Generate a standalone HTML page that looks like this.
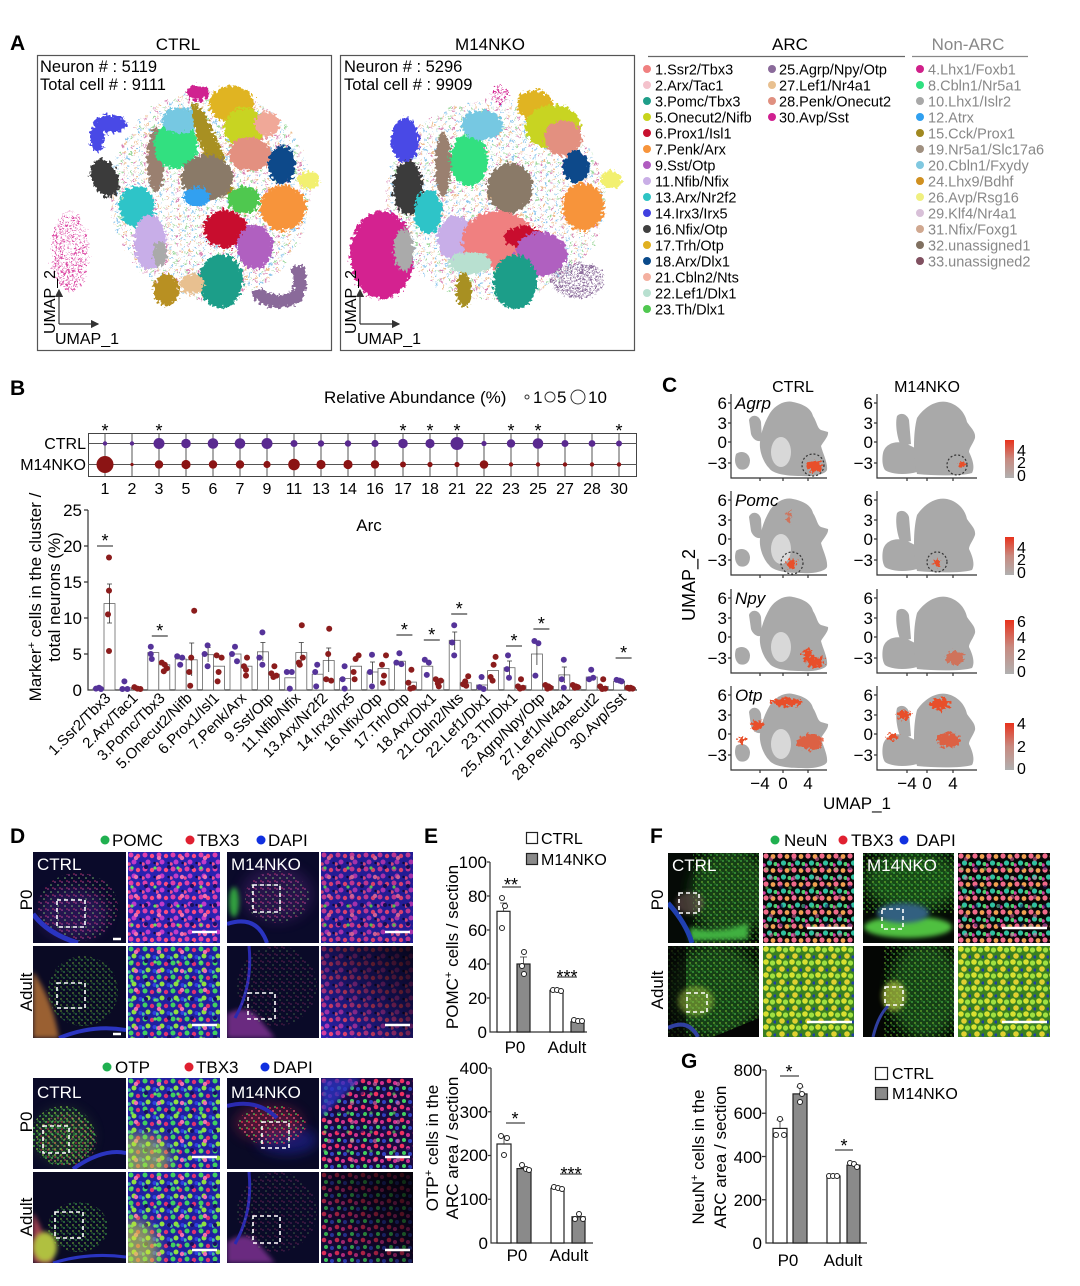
<!DOCTYPE html>
<html><head><meta charset="utf-8">
<style>
html,body{margin:0;padding:0;background:#fff}
svg{display:block;font-family:"Liberation Sans",Arial,sans-serif}
.b{fill:#fff;stroke:#666;stroke-width:.8}
.dc{fill:#553399}
.dk{fill:#8b1c1c}
.ax{stroke:#333;stroke-width:1.2;fill:none}
.ln{stroke:#555;stroke-width:1;fill:none}
.sg{stroke:#444;stroke-width:1.2}
.eb{stroke:#333;stroke-width:.8;fill:none}
.ds{fill:none;stroke:#fff;stroke-width:1.6;stroke-dasharray:4 3}
.sb{stroke:#fff;stroke-width:2.5}
.wt{fill:#fff;font-size:17px}
.bw{fill:#fff;stroke:#222;stroke-width:1.2}
.bg{fill:#8a8a8a;stroke:#222;stroke-width:1.2}
.oc{fill:#fff;stroke:#222;stroke-width:1}
.gr{fill:#a9a9a9}
</style></head>
<body>
<svg width="1080" height="1286" viewBox="0 0 1080 1286" xmlns="http://www.w3.org/2000/svg">
<defs>
<filter id="rough" x="-20%" y="-20%" width="140%" height="140%">
<feTurbulence type="fractalNoise" baseFrequency="0.32" numOctaves="2" seed="4" result="n"/>
<feDisplacementMap in="SourceGraphic" in2="n" scale="10" xChannelSelector="R" yChannelSelector="G"/>
</filter>
<filter id="bl" x="-50%" y="-50%" width="200%" height="200%"><feGaussianBlur stdDeviation="6"/></filter>
<filter id="bl2" x="-50%" y="-50%" width="200%" height="200%"><feGaussianBlur stdDeviation="2.5"/></filter>
<marker id="ar" markerWidth="7" markerHeight="7" refX="6" refY="3.5" orient="auto"><path d="M0,0 L7,3.5 L0,7 z" fill="#333"/></marker>
<pattern id="sp" width="11" height="9" patternUnits="userSpaceOnUse">
<circle cx="2" cy="2" r="1.2" fill="#c03080"/><circle cx="7" cy="5" r="1.2" fill="#40a0e0"/><circle cx="4" cy="8" r="1.1" fill="#e09040"/><circle cx="10" cy="1" r="1.1" fill="#60c060"/></pattern>
<pattern id="spm" width="6" height="6" patternUnits="userSpaceOnUse"><circle cx="1.5" cy="1.5" r="1.4" fill="#d42090"/><circle cx="4.5" cy="4.5" r="1" fill="#d42090"/></pattern>
<pattern id="spu" width="5" height="5" patternUnits="userSpaceOnUse"><circle cx="1.5" cy="1.5" r="1.4" fill="#8a6a9a"/><circle cx="4" cy="4" r="1" fill="#8a6a9a"/></pattern>
<linearGradient id="cbar" x1="0" y1="0" x2="0" y2="1"><stop offset="0" stop-color="#e8321c"/><stop offset=".5" stop-color="#c88a80"/><stop offset="1" stop-color="#b0b0b0"/></linearGradient>
<pattern id="pm" width="14" height="14" patternUnits="userSpaceOnUse"><rect width="14" height="14" fill="#2a22b0"/>
<circle cx="3" cy="3" r="2.5" fill="#e040a8"/><circle cx="10" cy="4" r="2.2" fill="#ff4a80"/><circle cx="6" cy="10" r="2.5" fill="#c23ac8"/><circle cx="12.5" cy="11" r="1.2" fill="#120a40"/><circle cx="1" cy="12" r="1.8" fill="#f05090"/></pattern>
<pattern id="pm2" width="23" height="19" patternUnits="userSpaceOnUse"><circle cx="8" cy="6" r="2.2" fill="#f070b0"/><circle cx="18" cy="15" r="2" fill="#1a1060"/><circle cx="4" cy="16" r="1.6" fill="#60e060"/></pattern>
<pattern id="pg" width="14" height="14" patternUnits="userSpaceOnUse"><rect width="14" height="14" fill="#2020a0"/>
<circle cx="3" cy="3" r="2.5" fill="#40d060"/><circle cx="10" cy="4" r="2.2" fill="#e03070"/><circle cx="6" cy="10" r="2.5" fill="#90e040"/><circle cx="12.5" cy="11" r="2" fill="#3040e0"/><circle cx="1" cy="12" r="1.8" fill="#40c0a0"/></pattern>
<pattern id="pr" width="13" height="13" patternUnits="userSpaceOnUse"><rect width="13" height="13" fill="#1a0a40"/>
<circle cx="3" cy="3" r="2.3" fill="#f03060"/><circle cx="9" cy="5" r="2" fill="#d03090"/><circle cx="5" cy="10" r="2" fill="#40d060"/><circle cx="11" cy="11" r="2" fill="#3040c0"/></pattern>
<pattern id="pf" width="14" height="14" patternUnits="userSpaceOnUse"><rect width="14" height="14" fill="#080808"/>
<circle cx="3" cy="3" r="2.6" fill="#f06a8a"/><circle cx="10" cy="3.5" r="2.4" fill="#f0a050"/><circle cx="6.5" cy="10" r="2.6" fill="#30c0a0"/><circle cx="12.5" cy="11" r="2" fill="#50d070"/><circle cx="1" cy="12" r="1.8" fill="#d040a0"/></pattern>
<pattern id="py" width="13" height="13" patternUnits="userSpaceOnUse"><rect width="13" height="13" fill="#3a8020"/>
<circle cx="3" cy="3" r="2.8" fill="#d8e030"/><circle cx="9.5" cy="4" r="2.6" fill="#a0e040"/><circle cx="6" cy="10" r="2.8" fill="#e0d030"/><circle cx="12" cy="11" r="1.6" fill="#2040a0"/></pattern>
<pattern id="spkP" width="7" height="7" patternUnits="userSpaceOnUse"><circle cx="1" cy="2" r=".8" fill="#ff60c0"/><circle cx="4" cy="5" r=".8" fill="#a0ff80"/><circle cx="6" cy="1" r=".8" fill="#ff4080"/></pattern>
<pattern id="spkG" width="6" height="6" patternUnits="userSpaceOnUse"><circle cx="1" cy="2" r=".9" fill="#60ff60"/><circle cx="4" cy="5" r=".9" fill="#a0ff40"/><circle cx="5" cy="1" r=".7" fill="#40c040"/></pattern>
<pattern id="spkR" width="7" height="7" patternUnits="userSpaceOnUse"><circle cx="1" cy="2" r=".9" fill="#ff3050"/><circle cx="4" cy="5" r=".9" fill="#ff6080"/><circle cx="6" cy="1" r=".8" fill="#60ff60"/></pattern>
<linearGradient id="darkTR" x1="0" y1="1" x2="1" y2="0"><stop offset="0" stop-color="#000" stop-opacity="0"/><stop offset=".6" stop-color="#000" stop-opacity=".6"/><stop offset="1" stop-color="#000" stop-opacity=".85"/></linearGradient>
<g id="cblob">
<path class="gr" d="M39,-65 C45,-74 55,-78 62,-76 C72,-74 80,-70 82,-62 C86,-56 86,-50 90,-48 L97,-46 C98,-42 92,-36 90,-32 C92,-24 97,-15 96,-8 C94,-3 80,-1 70,-2 C55,-2 42,-4 38,-10 C32,-16 28,-28 29,-36 C30,-45 33,-55 39,-65 Z"/>
<path class="gr" d="M18,-58 C20,-64 28,-64 30,-56 L31,-38 C28,-35 22,-38 20,-44 Z"/>
<path class="gr" d="M5,-24 C10,-28 18,-26 19,-18 C19,-10 14,-7 8,-9 C4,-12 3,-18 5,-24 Z"/>
<ellipse cx="50" cy="-26" rx="10" ry="15" fill="#fff" opacity=".55"/>
</g>
<g id="kblob">
<path class="gr" d="M6,-25 C8,-35 20,-38 30,-34 L38,-30 L40,-6 C30,-3 15,-3 8,-8 C5,-12 5,-20 6,-25 Z"/>
<path class="gr" d="M20,-62 C24,-66 30,-64 32,-58 L34,-34 L24,-32 C20,-40 18,-54 20,-62 Z"/>
<path class="gr" d="M40,-60 C48,-72 60,-78 70,-76 C80,-74 88,-66 90,-56 C94,-50 99,-46 98,-40 C96,-34 92,-30 92,-26 C96,-18 98,-10 95,-5 C85,-2 60,-2 40,-4 C36,-20 36,-45 40,-60 Z"/>
</g>
<g id="cax"><path class="ax" d="M0,-84 V0 H96"/><path class="ax" d="M-3,-75H0M-3,-55H0M-3,-36H0M-3,-15H0M29,0v3M52,0v3M77,0v3"/>
<g font-size="17" text-anchor="end"><text x="-4" y="-69">6</text><text x="-4" y="-49">3</text><text x="-4" y="-30">0</text><text x="-4" y="-9">−3</text></g></g>
<g id="kax"><path class="ax" d="M0,-84 V0 H100"/><path class="ax" d="M-3,-75H0M-3,-55H0M-3,-36H0M-3,-15H0M30,0v3M50,0v3M76,0v3"/>
<g font-size="17" text-anchor="end"><text x="-4" y="-69">6</text><text x="-4" y="-49">3</text><text x="-4" y="-30">0</text><text x="-4" y="-9">−3</text></g></g>
</defs>

<!-- ================= PANEL A ================= -->
<text x="10" y="50" font-size="21" font-weight="bold">A</text>
<text x="178" y="50" text-anchor="middle" font-size="17">CTRL</text>
<text x="490" y="50" text-anchor="middle" font-size="17">M14NKO</text>
<rect x="37.5" y="55.5" width="294" height="295" fill="none" stroke="#555" stroke-width="1.2"/>
<rect x="340.5" y="55.5" width="294" height="295" fill="none" stroke="#555" stroke-width="1.2"/>
<text x="40" y="72" font-size="16.5">Neuron # : 5119</text>
<text x="40" y="90" font-size="16.5">Total cell # : 9111</text>
<text x="344" y="72" font-size="16.5">Neuron # : 5296</text>
<text x="344" y="90" font-size="16.5">Total cell # : 9909</text>

<g filter="url(#rough)">
<ellipse cx="210" cy="195" rx="100" ry="105" fill="url(#sp)" opacity=".6"/>
<ellipse cx="70" cy="252" rx="19" ry="40" fill="url(#spm)" opacity=".8"/>
<ellipse cx="110" cy="124" rx="17" ry="9" fill="#4a4ae6"/>
<ellipse cx="97" cy="138" rx="7" ry="14" fill="#4a4ae6"/>
<ellipse cx="105" cy="178" rx="13" ry="20" fill="#3a3a3a" transform="rotate(-25 105 178)"/>
<ellipse cx="137" cy="207" rx="18" ry="21" fill="#2ec4c8"/>
<ellipse cx="150" cy="242" rx="16" ry="27" fill="#c8aee8"/>
<ellipse cx="160" cy="254" rx="7" ry="13" fill="#aaa"/>
<ellipse cx="156" cy="160" rx="9" ry="32" fill="#9a8070"/>
<ellipse cx="176" cy="145" rx="22" ry="24" fill="#30e080"/>
<ellipse cx="180" cy="120" rx="18" ry="13" fill="#76c8e2"/>
<ellipse cx="212" cy="150" rx="9" ry="50" fill="#a89020" transform="rotate(-22 212 150)"/>
<ellipse cx="232" cy="104" rx="23" ry="18" fill="#e0b420"/>
<ellipse cx="245" cy="128" rx="21" ry="20" fill="#c8d420"/>
<ellipse cx="198" cy="93" rx="11" ry="8" fill="#d02090"/>
<ellipse cx="250" cy="154" rx="22" ry="17" fill="#e39080"/>
<ellipse cx="267" cy="124" rx="13" ry="12" fill="#f0a898"/>
<ellipse cx="282" cy="165" rx="14" ry="19" fill="#0a4a8a"/>
<ellipse cx="207" cy="178" rx="26" ry="23" fill="#8a7a68"/>
<ellipse cx="197" cy="197" rx="13" ry="10" fill="#30a0f0"/>
<ellipse cx="244" cy="200" rx="16" ry="14" fill="#50c850"/>
<ellipse cx="309" cy="180" rx="11" ry="9" fill="#f2f070"/>
<ellipse cx="283" cy="208" rx="23" ry="23" fill="#f7943b"/>
<ellipse cx="225" cy="229" rx="22" ry="19" fill="#c8102e"/>
<ellipse cx="255" cy="247" rx="18" ry="22" fill="#b060c0"/>
<ellipse cx="221" cy="281" rx="22" ry="27" fill="#1f9e89"/>
<path d="M297,266 C303,285 301,299 285,301 C272,303 261,299 256,290" stroke="#8a6a9a" stroke-width="13" fill="none"/>
<ellipse cx="166" cy="290" rx="13" ry="16" fill="#b89020"/>
<ellipse cx="192" cy="284" rx="12" ry="10" fill="#e8c090"/>
</g>
<g filter="url(#rough)">
<ellipse cx="495" cy="200" rx="110" ry="100" fill="url(#sp)" opacity=".6"/>
<ellipse cx="382" cy="255" rx="32" ry="44" fill="#d42090"/>
<ellipse cx="404" cy="250" rx="10" ry="21" fill="#aaa"/>
<ellipse cx="405" cy="140" rx="14" ry="22" fill="#4a4ae6"/>
<ellipse cx="408" cy="188" rx="15" ry="27" fill="#3a3a3a"/>
<ellipse cx="428" cy="212" rx="14" ry="22" fill="#2ec4c8"/>
<ellipse cx="455" cy="238" rx="18" ry="22" fill="#c8aee8"/>
<ellipse cx="443" cy="165" rx="8" ry="32" fill="#9a8070"/>
<ellipse cx="469" cy="160" rx="19" ry="26" fill="#30e080"/>
<ellipse cx="482" cy="125" rx="21" ry="15" fill="#76c8e2"/>
<ellipse cx="535" cy="105" rx="18" ry="15" fill="#e0b420"/>
<ellipse cx="553" cy="127" rx="28" ry="22" fill="#c8d420"/>
<ellipse cx="563" cy="138" rx="19" ry="18" fill="#e39080"/>
<ellipse cx="576" cy="167" rx="13" ry="16" fill="#0a4a8a"/>
<ellipse cx="611" cy="180" rx="11" ry="9" fill="#f2f070"/>
<ellipse cx="583" cy="207" rx="21" ry="24" fill="#f7943b"/>
<ellipse cx="510" cy="188" rx="23" ry="25" fill="#8a7a68"/>
<ellipse cx="498" cy="240" rx="36" ry="29" fill="#f08080"/>
<ellipse cx="524" cy="237" rx="20" ry="11" fill="#c8102e"/>
<ellipse cx="470" cy="263" rx="22" ry="11" fill="#b8e0d0"/>
<ellipse cx="541" cy="254" rx="26" ry="22" fill="#b060c0"/>
<ellipse cx="515" cy="282" rx="22" ry="27" fill="#1f9e89"/>
<ellipse cx="578" cy="280" rx="27" ry="18" fill="url(#spu)"/>
<ellipse cx="464" cy="290" rx="8" ry="17" fill="#a89020"/>
<ellipse cx="500" cy="95" rx="9" ry="9" fill="url(#spm)"/>
</g>
<path d="M59,324 V290" stroke="#333" stroke-width="1.2" marker-end="url(#ar)"/>
<path d="M59,324 H98" stroke="#333" stroke-width="1.2" marker-end="url(#ar)"/>
<text transform="translate(55,302) rotate(-90)" text-anchor="middle" font-size="16">UMAP_2</text>
<text x="55" y="344" font-size="16">UMAP_1</text>
<path d="M360,324 V290" stroke="#333" stroke-width="1.2" marker-end="url(#ar)"/>
<path d="M360,324 H399" stroke="#333" stroke-width="1.2" marker-end="url(#ar)"/>
<text transform="translate(356,302) rotate(-90)" text-anchor="middle" font-size="16">UMAP_2</text>
<text x="357" y="344" font-size="16">UMAP_1</text>

<text x="790" y="50" text-anchor="middle" font-size="17">ARC</text>
<path d="M648,56.5H905" stroke="#666" stroke-width="1.2"/>
<text x="968" y="50" text-anchor="middle" font-size="17" fill="#888">Non-ARC</text>
<path d="M912,56.5H1028" stroke="#888" stroke-width="1.2"/>
<g font-size="14.5">
<circle cx="647" cy="69" r="4" fill="#f08080"/><text x="655" y="74.5">1.Ssr2/Tbx3</text>
<circle cx="647" cy="85" r="4" fill="#f4c2cc"/><text x="655" y="90.5">2.Arx/Tac1</text>
<circle cx="647" cy="101" r="4" fill="#1f9e89"/><text x="655" y="106.5">3.Pomc/Tbx3</text>
<circle cx="647" cy="117" r="4" fill="#c8d41c"/><text x="655" y="122.5">5.Onecut2/Nifb</text>
<circle cx="647" cy="133" r="4" fill="#c8102e"/><text x="655" y="138.5">6.Prox1/Isl1</text>
<circle cx="647" cy="149" r="4" fill="#f7943b"/><text x="655" y="154.5">7.Penk/Arx</text>
<circle cx="647" cy="165" r="4" fill="#b05cc0"/><text x="655" y="170.5">9.Sst/Otp</text>
<circle cx="647" cy="181" r="4" fill="#c9aee6"/><text x="655" y="186.5">11.Nfib/Nfix</text>
<circle cx="647" cy="197" r="4" fill="#2ec4c4"/><text x="655" y="202.5">13.Arx/Nr2f2</text>
<circle cx="647" cy="213" r="4" fill="#4040e0"/><text x="655" y="218.5">14.Irx3/Irx5</text>
<circle cx="647" cy="229" r="4" fill="#404040"/><text x="655" y="234.5">16.Nfix/Otp</text>
<circle cx="647" cy="245" r="4" fill="#e0b020"/><text x="655" y="250.5">17.Trh/Otp</text>
<circle cx="647" cy="261" r="4" fill="#0a4a8a"/><text x="655" y="266.5">18.Arx/Dlx1</text>
<circle cx="647" cy="277" r="4" fill="#f4b0a0"/><text x="655" y="282.5">21.Cbln2/Nts</text>
<circle cx="647" cy="293" r="4" fill="#b8e0d0"/><text x="655" y="298.5">22.Lef1/Dlx1</text>
<circle cx="647" cy="309" r="4" fill="#50c850"/><text x="655" y="314.5">23.Th/Dlx1</text>
<circle cx="772" cy="69" r="4" fill="#8a6a9a"/><text x="779" y="74.5">25.Agrp/Npy/Otp</text>
<circle cx="772" cy="85" r="4" fill="#e8c090"/><text x="779" y="90.5">27.Lef1/Nr4a1</text>
<circle cx="772" cy="101" r="4" fill="#e09080"/><text x="779" y="106.5">28.Penk/Onecut2</text>
<circle cx="772" cy="117" r="4" fill="#d02090"/><text x="779" y="122.5">30.Avp/Sst</text>
<g fill="#888">
<circle cx="920" cy="69" r="4" fill="#d0208a"/><text x="928" y="74.5">4.Lhx1/Foxb1</text>
<circle cx="920" cy="85" r="4" fill="#30e080"/><text x="928" y="90.5">8.Cbln1/Nr5a1</text>
<circle cx="920" cy="101" r="4" fill="#a8a8a8"/><text x="928" y="106.5">10.Lhx1/Islr2</text>
<circle cx="920" cy="117" r="4" fill="#30a0f0"/><text x="928" y="122.5">12.Atrx</text>
<circle cx="920" cy="133" r="4" fill="#a08820"/><text x="928" y="138.5">15.Cck/Prox1</text>
<circle cx="920" cy="149" r="4" fill="#a09080"/><text x="928" y="154.5">19.Nr5a1/Slc17a6</text>
<circle cx="920" cy="165" r="4" fill="#80c8e0"/><text x="928" y="170.5">20.Cbln1/Fxydy</text>
<circle cx="920" cy="181" r="4" fill="#d09020"/><text x="928" y="186.5">24.Lhx9/Bdhf</text>
<circle cx="920" cy="197" r="4" fill="#f0f080"/><text x="928" y="202.5">26.Avp/Rsg16</text>
<circle cx="920" cy="213" r="4" fill="#d8c0d8"/><text x="928" y="218.5">29.Klf4/Nr4a1</text>
<circle cx="920" cy="229" r="4" fill="#d0a890"/><text x="928" y="234.5">31.Nfix/Foxg1</text>
<circle cx="920" cy="245" r="4" fill="#807060"/><text x="928" y="250.5">32.unassigned1</text>
<circle cx="920" cy="261" r="4" fill="#805060"/><text x="928" y="266.5">33.unassigned2</text>
</g></g>

<!-- ================= PANEL B ================= -->
<text x="10" y="395" font-size="21" font-weight="bold">B</text>
<text x="324" y="403" font-size="17">Relative Abundance (%)</text>
<circle cx="527" cy="397" r="2" fill="none" stroke="#333"/>
<text x="533" y="403" font-size="17">1</text>
<circle cx="550" cy="397" r="5" fill="none" stroke="#333"/>
<text x="557" y="403" font-size="17">5</text>
<circle cx="578" cy="397" r="7" fill="none" stroke="#333"/>
<text x="588" y="403" font-size="17">10</text>

<rect x="88.5" y="433.5" width="548" height="43" fill="none" stroke="#444" stroke-width="1"/>
<path class="ln" d="M88,443.5H637M88,464.5H637"/>
<path class="ln" d="M105,434V476M132,434V476M159,434V476M186,434V476M213,434V476M240,434V476M267,434V476M294,434V476M321,434V476M348,434V476M375,434V476M403,434V476M430,434V476M457,434V476M484,434V476M511,434V476M538,434V476M565,434V476M592,434V476M619,434V476"/>
<text x="86" y="449" text-anchor="end" font-size="16">CTRL</text>
<text x="86" y="470" text-anchor="end" font-size="16">M14NKO</text>
<g fill="#5a2a90">
<circle cx="105" cy="443.5" r="2.2"/><circle cx="132" cy="443.5" r="2.2"/><circle cx="159" cy="443.5" r="5.5"/><circle cx="186" cy="443.5" r="4.8"/><circle cx="213" cy="443.5" r="5.3"/><circle cx="240" cy="443.5" r="5.3"/><circle cx="267" cy="443.5" r="5.5"/><circle cx="294" cy="443.5" r="3.5"/><circle cx="321" cy="443.5" r="3.2"/><circle cx="348" cy="443.5" r="3.2"/><circle cx="375" cy="443.5" r="3.6"/><circle cx="403" cy="443.5" r="4.8"/><circle cx="430" cy="443.5" r="4.6"/><circle cx="457" cy="443.5" r="6.5"/><circle cx="484" cy="443.5" r="2.6"/><circle cx="511" cy="443.5" r="4.2"/><circle cx="538" cy="443.5" r="5.3"/><circle cx="565" cy="443.5" r="3.5"/><circle cx="592" cy="443.5" r="3.4"/><circle cx="619" cy="443.5" r="3"/>
</g>
<g fill="#8b1414">
<circle cx="105" cy="464.5" r="8.5"/><circle cx="132" cy="464.5" r="1.6"/><circle cx="159" cy="464.5" r="4.2"/><circle cx="186" cy="464.5" r="4.6"/><circle cx="213" cy="464.5" r="4.2"/><circle cx="240" cy="464.5" r="4.2"/><circle cx="267" cy="464.5" r="3.6"/><circle cx="294" cy="464.5" r="5.8"/><circle cx="321" cy="464.5" r="4.6"/><circle cx="348" cy="464.5" r="4.6"/><circle cx="375" cy="464.5" r="4.2"/><circle cx="403" cy="464.5" r="3"/><circle cx="430" cy="464.5" r="2.6"/><circle cx="457" cy="464.5" r="2.6"/><circle cx="484" cy="464.5" r="4.3"/><circle cx="511" cy="464.5" r="2.2"/><circle cx="538" cy="464.5" r="2.2"/><circle cx="565" cy="464.5" r="2.2"/><circle cx="592" cy="464.5" r="2.2"/><circle cx="619" cy="464.5" r="2.2"/>
</g>
<g font-size="18" text-anchor="middle">
<text x="105" y="437">*</text><text x="159" y="437">*</text><text x="403" y="437">*</text><text x="430" y="437">*</text><text x="457" y="437">*</text><text x="511" y="437">*</text><text x="538" y="437">*</text><text x="619" y="437">*</text>
</g>
<g font-size="16" text-anchor="middle">
<text x="105" y="494">1</text><text x="132" y="494">2</text><text x="159" y="494">3</text><text x="186" y="494">5</text><text x="213" y="494">6</text><text x="240" y="494">7</text><text x="267" y="494">9</text><text x="294" y="494">11</text><text x="321" y="494">13</text><text x="348" y="494">14</text><text x="375" y="494">16</text><text x="403" y="494">17</text><text x="430" y="494">18</text><text x="457" y="494">21</text><text x="484" y="494">22</text><text x="511" y="494">23</text><text x="538" y="494">25</text><text x="565" y="494">27</text><text x="592" y="494">28</text><text x="619" y="494">30</text>
</g>

<path class="ax" d="M88,510V690H637"/>
<path class="ax" d="M84,510H88M84,546H88M84,582H88M84,618H88M84,654H88"/>
<g font-size="17" text-anchor="end">
<text x="82" y="516">25</text><text x="82" y="552">20</text><text x="82" y="588">15</text><text x="82" y="624">10</text><text x="82" y="660">5</text><text x="82" y="696">0</text>
</g>
<text transform="translate(41,597) rotate(-90)" text-anchor="middle" font-size="17">Marker<tspan font-size="11" dy="-6">+</tspan><tspan dy="6"> cells in the cluster /</tspan></text>
<text transform="translate(60,597) rotate(-90)" text-anchor="middle" font-size="17">total neurons (%)</text>
<text x="369" y="531" text-anchor="middle" font-size="17">Arc</text>

<g transform="translate(104,0)"><rect class="b" x="-11" y="688.6" width="11" height="1.4"/><rect class="b" x="0" y="603.6" width="11" height="86.4"/><path class="eb" d="M5.5,584V623M3,584h5M3,623h5"/>
<circle class="dc" cx="-8" cy="688.6" r="3"/><circle class="dc" cx="-5" cy="687.8" r="3"/><circle class="dc" cx="-3" cy="689" r="3"/>
<circle class="dk" cx="5" cy="557.5" r="3"/><circle class="dk" cx="5" cy="590.6" r="3"/><circle class="dk" cx="4" cy="614.4" r="3"/><circle class="dk" cx="5" cy="651" r="3"/>
<path class="sg" d="M-7,546H9"/><text x="1" y="547" font-size="18" text-anchor="middle">*</text></g>

<g transform="translate(131.4,0)"><rect class="b" x="-11" y="687.8" width="11" height="2.2"/><rect class="b" x="0" y="688.6" width="11" height="1.4"/>
<circle class="dc" cx="-7" cy="681.4" r="3"/><circle class="dc" cx="-9" cy="689" r="3"/><circle class="dc" cx="-4" cy="689" r="3"/>
<circle class="dk" cx="3" cy="687.1" r="3"/><circle class="dk" cx="6" cy="688.6" r="3"/><circle class="dk" cx="9" cy="689" r="3"/></g>

<g transform="translate(158.8,0)"><rect class="b" x="-11" y="652.6" width="11" height="37.4"/><rect class="b" x="0" y="664.8" width="11" height="25.2"/>
<circle class="dc" cx="-8" cy="646.8" r="3"/><circle class="dc" cx="-8" cy="654" r="3"/><circle class="dc" cx="-7" cy="659" r="3"/>
<circle class="dk" cx="3" cy="662.6" r="3"/><circle class="dk" cx="6" cy="664.8" r="3"/><circle class="dk" cx="8" cy="668.4" r="3"/><circle class="dk" cx="5" cy="671.3" r="3"/>
<path class="sg" d="M-7,636H9"/><text x="1" y="637" font-size="18" text-anchor="middle">*</text></g>

<g transform="translate(186.2,0)"><rect class="b" x="-11" y="659" width="11" height="31"/><rect class="b" x="0" y="659.8" width="11" height="30.2"/><path class="eb" d="M5.5,643V676M3,643h5"/>
<circle class="dc" cx="-9" cy="656.2" r="3"/><circle class="dc" cx="-4" cy="657.6" r="3"/><circle class="dc" cx="-6" cy="664.8" r="3"/>
<circle class="dk" cx="8" cy="610.8" r="3"/><circle class="dk" cx="5" cy="657.6" r="3"/><circle class="dk" cx="3" cy="672" r="3"/><circle class="dk" cx="4" cy="685.7" r="3"/></g>

<g transform="translate(213.6,0)"><rect class="b" x="-11" y="654.7" width="11" height="35.3"/><rect class="b" x="0" y="666.2" width="11" height="23.8"/><path class="eb" d="M-5.5,647.5V662M-8,647.5h5"/>
<circle class="dc" cx="-6" cy="645.4" r="3"/><circle class="dc" cx="-9" cy="654" r="3"/><circle class="dc" cx="-6" cy="666.2" r="3"/>
<circle class="dk" cx="3" cy="655.4" r="3"/><circle class="dk" cx="8" cy="657.6" r="3"/><circle class="dk" cx="5" cy="672" r="3"/><circle class="dk" cx="4" cy="681.4" r="3"/></g>

<g transform="translate(241,0)"><rect class="b" x="-11" y="654" width="11" height="36"/><rect class="b" x="0" y="666.2" width="11" height="23.8"/>
<circle class="dc" cx="-6" cy="646.8" r="3"/><circle class="dc" cx="-9" cy="654" r="3"/><circle class="dc" cx="-4" cy="661.2" r="3"/>
<circle class="dk" cx="6" cy="657.6" r="3"/><circle class="dk" cx="3" cy="666.2" r="3"/><circle class="dk" cx="5" cy="669.8" r="3"/><circle class="dk" cx="5" cy="675.6" r="3"/></g>

<g transform="translate(268.4,0)"><rect class="b" x="-11" y="651.8" width="11" height="38.2"/><rect class="b" x="0" y="674.2" width="11" height="15.8"/><path class="eb" d="M-5.5,642.5V661M-8,642.5h5"/>
<circle class="dc" cx="-6" cy="632.4" r="3"/><circle class="dc" cx="-9" cy="657.6" r="3"/><circle class="dc" cx="-6" cy="664.8" r="3"/>
<circle class="dk" cx="6" cy="666.2" r="3"/><circle class="dk" cx="3" cy="673.4" r="3"/><circle class="dk" cx="8" cy="675.6" r="3"/><circle class="dk" cx="5" cy="677" r="3"/></g>

<g transform="translate(295.8,0)"><rect class="b" x="-11" y="677.8" width="11" height="12.2"/><rect class="b" x="0" y="652.6" width="11" height="37.4"/><path class="eb" d="M5.5,642.5V662M3,642.5h5"/>
<circle class="dc" cx="-9" cy="672" r="3"/><circle class="dc" cx="-4" cy="672" r="3"/><circle class="dc" cx="-6" cy="688.6" r="3"/>
<circle class="dk" cx="6" cy="625.2" r="3"/><circle class="dk" cx="7" cy="657.6" r="3"/><circle class="dk" cx="3" cy="662.6" r="3"/><circle class="dk" cx="4" cy="664.8" r="3"/></g>

<g transform="translate(323.2,0)"><rect class="b" x="-11" y="674.2" width="11" height="15.8"/><rect class="b" x="0" y="660.5" width="11" height="29.5"/><path class="eb" d="M5.5,648V672M3,648h5"/>
<circle class="dc" cx="-6" cy="664.8" r="3"/><circle class="dc" cx="-8" cy="672" r="3"/><circle class="dc" cx="-7" cy="686.4" r="3"/>
<circle class="dk" cx="6" cy="628.8" r="3"/><circle class="dk" cx="5" cy="654" r="3"/><circle class="dk" cx="3" cy="679.2" r="3"/><circle class="dk" cx="8" cy="680.6" r="3"/></g>

<g transform="translate(350.6,0)"><rect class="b" x="-11" y="678.5" width="11" height="11.5"/><rect class="b" x="0" y="666.2" width="11" height="23.8"/>
<circle class="dc" cx="-6" cy="666.2" r="3"/><circle class="dc" cx="-8" cy="679.2" r="3"/><circle class="dc" cx="-6" cy="688.6" r="3"/>
<circle class="dk" cx="8" cy="655.4" r="3"/><circle class="dk" cx="5" cy="659" r="3"/><circle class="dk" cx="3" cy="672" r="3"/><circle class="dk" cx="4" cy="679.2" r="3"/></g>

<g transform="translate(378,0)"><rect class="b" x="-11" y="672" width="11" height="18"/><rect class="b" x="0" y="668.4" width="11" height="21.6"/><path class="eb" d="M-5.5,662V683M-8,662h5"/>
<circle class="dc" cx="-6" cy="654.7" r="3"/><circle class="dc" cx="-8" cy="672" r="3"/><circle class="dc" cx="-6" cy="686.4" r="3"/>
<circle class="dk" cx="8" cy="655.4" r="3"/><circle class="dk" cx="4" cy="664.8" r="3"/><circle class="dk" cx="6" cy="675.6" r="3"/><circle class="dk" cx="5" cy="682.8" r="3"/></g>

<g transform="translate(405.4,0)"><rect class="b" x="-11" y="661.2" width="11" height="28.8"/><rect class="b" x="0" y="682.1" width="11" height="7.9"/>
<circle class="dc" cx="-6" cy="653.3" r="3"/><circle class="dc" cx="-9" cy="662.6" r="3"/><circle class="dc" cx="-4" cy="664.1" r="3"/>
<circle class="dk" cx="6" cy="669.8" r="3"/><circle class="dk" cx="3" cy="682.8" r="3"/><circle class="dk" cx="8" cy="687.8" r="3"/><circle class="dk" cx="5" cy="688.6" r="3"/>
<path class="sg" d="M-9,635H7"/><text x="-1" y="636" font-size="18" text-anchor="middle">*</text></g>

<g transform="translate(432.8,0)"><rect class="b" x="-11" y="666.2" width="11" height="23.8"/><rect class="b" x="0" y="679.9" width="11" height="10.1"/>
<circle class="dc" cx="-8" cy="659.8" r="3"/><circle class="dc" cx="-4" cy="662.6" r="3"/><circle class="dc" cx="-6" cy="674.9" r="3"/>
<circle class="dk" cx="3" cy="679.2" r="3"/><circle class="dk" cx="8" cy="680.6" r="3"/><circle class="dk" cx="5" cy="683.5" r="3"/><circle class="dk" cx="6" cy="686.4" r="3"/>
<path class="sg" d="M-9,640H7"/><text x="-1" y="641" font-size="18" text-anchor="middle">*</text></g>

<g transform="translate(460.2,0)"><rect class="b" x="-11" y="640.3" width="11" height="49.7"/><rect class="b" x="0" y="682.8" width="11" height="7.2"/><path class="eb" d="M-5.5,632V650M-8,632h5"/>
<circle class="dc" cx="-6" cy="625.2" r="3"/><circle class="dc" cx="-8" cy="642.5" r="3"/><circle class="dc" cx="-6" cy="655.4" r="3"/>
<circle class="dk" cx="8" cy="676.3" r="3"/><circle class="dk" cx="5" cy="681.4" r="3"/><circle class="dk" cx="3" cy="684.2" r="3"/><circle class="dk" cx="6" cy="685.7" r="3"/>
<path class="sg" d="M-9,614H7"/><text x="-1" y="615" font-size="18" text-anchor="middle">*</text></g>

<g transform="translate(487.6,0)"><rect class="b" x="-11" y="685" width="11" height="5"/><rect class="b" x="0" y="670.6" width="11" height="19.4"/>
<circle class="dc" cx="-6" cy="677" r="3"/><circle class="dc" cx="-8" cy="687.1" r="3"/><circle class="dc" cx="-4" cy="689" r="3"/>
<circle class="dk" cx="8" cy="656.9" r="3"/><circle class="dk" cx="6" cy="664.8" r="3"/><circle class="dk" cx="3" cy="677" r="3"/><circle class="dk" cx="5" cy="680.6" r="3"/></g>

<g transform="translate(515,0)"><rect class="b" x="-11" y="667.7" width="11" height="22.3"/><rect class="b" x="0" y="685.7" width="11" height="4.3"/><path class="eb" d="M-5.5,661V675M-8,661h5"/>
<circle class="dc" cx="-7" cy="655.4" r="3"/><circle class="dc" cx="-8" cy="669.1" r="3"/><circle class="dc" cx="-6" cy="677.8" r="3"/>
<circle class="dk" cx="6" cy="679.2" r="3"/><circle class="dk" cx="3" cy="686.4" r="3"/><circle class="dk" cx="8" cy="687.8" r="3"/><circle class="dk" cx="5" cy="688.6" r="3"/>
<path class="sg" d="M-9,646H7"/><text x="-1" y="647" font-size="18" text-anchor="middle">*</text></g>

<g transform="translate(542.4,0)"><rect class="b" x="-11" y="654" width="11" height="36"/><rect class="b" x="0" y="686.4" width="11" height="3.6"/><path class="eb" d="M-5.5,643V665M-8,643h5"/>
<circle class="dc" cx="-8" cy="641" r="3"/><circle class="dc" cx="-4" cy="643.2" r="3"/><circle class="dc" cx="-7" cy="675.6" r="3"/>
<circle class="dk" cx="3" cy="685" r="3"/><circle class="dk" cx="6" cy="686.4" r="3"/><circle class="dk" cx="8" cy="687.8" r="3"/><circle class="dk" cx="5" cy="688.6" r="3"/>
<path class="sg" d="M-9,629H7"/><text x="-1" y="630" font-size="18" text-anchor="middle">*</text></g>

<g transform="translate(569.8,0)"><rect class="b" x="-11" y="674.9" width="11" height="15.1"/><rect class="b" x="0" y="686.4" width="11" height="3.6"/><path class="eb" d="M-5.5,667V683M-8,667h5"/>
<circle class="dc" cx="-6" cy="659.8" r="3"/><circle class="dc" cx="-8" cy="679.2" r="3"/><circle class="dc" cx="-6" cy="687.8" r="3"/>
<circle class="dk" cx="3" cy="685" r="3"/><circle class="dk" cx="6" cy="686.4" r="3"/><circle class="dk" cx="8" cy="687.1" r="3"/><circle class="dk" cx="5" cy="687.8" r="3"/></g>

<g transform="translate(597.2,0)"><rect class="b" x="-11" y="677" width="11" height="13"/><rect class="b" x="0" y="686.4" width="11" height="3.6"/>
<circle class="dc" cx="-6" cy="669.8" r="3"/><circle class="dc" cx="-4" cy="677.8" r="3"/><circle class="dc" cx="-8" cy="679.2" r="3"/>
<circle class="dk" cx="6" cy="679.2" r="3"/><circle class="dk" cx="3" cy="686.4" r="3"/><circle class="dk" cx="8" cy="688.6" r="3"/><circle class="dk" cx="5" cy="689" r="3"/></g>

<g transform="translate(624.6,0)"><rect class="b" x="-11" y="681.4" width="11" height="8.6"/><rect class="b" x="0" y="687.8" width="11" height="2.2"/>
<circle class="dc" cx="-8" cy="679.9" r="3"/><circle class="dc" cx="-5" cy="680.6" r="3"/><circle class="dc" cx="-3" cy="681.4" r="3"/>
<circle class="dk" cx="3" cy="687.8" r="3"/><circle class="dk" cx="6" cy="687.8" r="3"/><circle class="dk" cx="8" cy="688.6" r="3"/><circle class="dk" cx="5" cy="688.6" r="3"/>
<path class="sg" d="M-9,658H7"/><text x="-1" y="659" font-size="18" text-anchor="middle">*</text></g>

<g font-size="15" text-anchor="end">
<text transform="translate(111.5,699) rotate(-45)">1.Ssr2/Tbx3</text>
<text transform="translate(138.6,699) rotate(-45)">2.Arx/Tac1</text>
<text transform="translate(165.8,699) rotate(-45)">3.Pomc/Tbx3</text>
<text transform="translate(192.9,699) rotate(-45)">5.Onecut2/Nifb</text>
<text transform="translate(220,699) rotate(-45)">6.Prox1/Isl1</text>
<text transform="translate(247.2,699) rotate(-45)">7.Penk/Arx</text>
<text transform="translate(274.3,699) rotate(-45)">9.Sst/Otp</text>
<text transform="translate(301.4,699) rotate(-45)">11.Nfib/Nfix</text>
<text transform="translate(328.5,699) rotate(-45)">13.Arx/Nr2f2</text>
<text transform="translate(355.7,699) rotate(-45)">14.Irx3/Irx5</text>
<text transform="translate(382.8,699) rotate(-45)">16.Nfix/Otp</text>
<text transform="translate(409.9,699) rotate(-45)">17.Trh/Otp</text>
<text transform="translate(437,699) rotate(-45)">18.Arx/Dlx1</text>
<text transform="translate(464.2,699) rotate(-45)">21.Cbln2/Nts</text>
<text transform="translate(491.3,699) rotate(-45)">22.Lef1/Dlx1</text>
<text transform="translate(518.4,699) rotate(-45)">23.Th/Dlx1</text>
<text transform="translate(545.6,699) rotate(-45)">25.Agrp/Npy/Otp</text>
<text transform="translate(572.7,699) rotate(-45)">27.Lef1/Nr4a1</text>
<text transform="translate(599.8,699) rotate(-45)">28.Penk/Onecut2</text>
<text transform="translate(627,699) rotate(-45)">30.Avp/Sst</text>
</g>

<!-- ================= PANEL C ================= -->
<text x="662" y="392" font-size="21" font-weight="bold">C</text>
<text x="793" y="392" text-anchor="middle" font-size="16">CTRL</text>
<text x="927" y="392" text-anchor="middle" font-size="16">M14NKO</text>
<use href="#cblob" transform="translate(731,478)"/>
<use href="#kblob" transform="translate(877,478)"/>
<use href="#cblob" transform="translate(731,575)"/>
<use href="#kblob" transform="translate(877,575)"/>
<use href="#cblob" transform="translate(731,673)"/>
<use href="#kblob" transform="translate(877,673)"/>
<use href="#cblob" transform="translate(731,770)"/>
<use href="#kblob" transform="translate(877,770)"/>
<g fill="#e8502a" filter="url(#rough)">
<ellipse cx="815" cy="466" rx="8" ry="6"/>
<ellipse cx="962" cy="465" rx="3" ry="3"/>
<ellipse cx="792" cy="564" rx="5" ry="6"/>
<ellipse cx="789" cy="518" rx="2" ry="6" opacity=".6"/>
<ellipse cx="937" cy="563" rx="3" ry="4"/>
<path d="M803,650 C803,662 808,668 815,668 C822,668 825,662 823,655 C818,660 812,660 810,648 Z"/>
<ellipse cx="955" cy="658" rx="9" ry="7" opacity=".6"/>
<ellipse cx="786" cy="702" rx="16" ry="4"/>
<ellipse cx="757" cy="725" rx="6" ry="5"/>
<ellipse cx="742" cy="740" rx="4" ry="3"/>
<ellipse cx="810" cy="742" rx="13" ry="8" opacity=".8"/>
<ellipse cx="940" cy="704" rx="10" ry="6"/>
<ellipse cx="904" cy="715" rx="6" ry="5"/>
<ellipse cx="893" cy="737" rx="6" ry="3"/>
<ellipse cx="948" cy="740" rx="12" ry="7" opacity=".8"/>
</g>
<g fill="none" stroke="#333" stroke-width="1.2" stroke-dasharray="2 2">
<circle cx="813" cy="465" r="11"/><circle cx="957" cy="465" r="10"/>
<circle cx="792" cy="563" r="11"/><circle cx="937" cy="562" r="10"/>
</g>
<use href="#cax" transform="translate(731,478)"/>
<use href="#kax" transform="translate(877,478)"/>
<use href="#cax" transform="translate(731,575)"/>
<use href="#kax" transform="translate(877,575)"/>
<use href="#cax" transform="translate(731,673)"/>
<use href="#kax" transform="translate(877,673)"/>
<use href="#cax" transform="translate(731,770)"/>
<use href="#kax" transform="translate(877,770)"/>
<g font-size="17" font-style="italic">
<text x="735" y="409">Agrp</text><text x="735" y="506">Pomc</text><text x="735" y="604">Npy</text><text x="735" y="701">Otp</text>
</g>
<g font-size="17" text-anchor="middle">
<text x="760" y="789">−4</text><text x="783" y="789">0</text><text x="808" y="789">4</text>
<text x="907" y="789">−4</text><text x="927" y="789">0</text><text x="953" y="789">4</text>
</g>
<text x="857" y="809" text-anchor="middle" font-size="17">UMAP_1</text>
<text transform="translate(695,585) rotate(-90)" text-anchor="middle" font-size="18">UMAP_2</text>
<rect x="1005" y="440" width="9" height="38" fill="url(#cbar)"/>
<rect x="1005" y="537" width="9" height="38" fill="url(#cbar)"/>
<rect x="1005" y="620" width="9" height="54" fill="url(#cbar)"/>
<rect x="1005" y="723" width="9" height="47" fill="url(#cbar)"/>
<g font-size="16">
<text x="1017" y="456">4</text><text x="1017" y="468">2</text><text x="1017" y="481">0</text>
<text x="1017" y="553">4</text><text x="1017" y="565">2</text><text x="1017" y="578">0</text>
<text x="1017" y="627">6</text><text x="1017" y="643">4</text><text x="1017" y="660">2</text><text x="1017" y="677">0</text>
<text x="1017" y="729">4</text><text x="1017" y="752">2</text><text x="1017" y="774">0</text>
</g>

<!-- ================= PANEL D ================= -->
<text x="10" y="843" font-size="21" font-weight="bold">D</text>
<circle cx="105" cy="840" r="4.5" fill="#20b050"/><text x="112" y="846" font-size="17">POMC</text>
<circle cx="190" cy="840" r="4.5" fill="#e02030"/><text x="197" y="846" font-size="17">TBX3</text>
<circle cx="261" cy="840" r="4.5" fill="#1030e0"/><text x="268" y="846" font-size="17">DAPI</text>
<text transform="translate(32,900) rotate(-90)" text-anchor="middle" font-size="17">P0</text>
<text transform="translate(32,992) rotate(-90)" text-anchor="middle" font-size="17">Adult</text>

<svg x="33" y="852" width="93" height="91">
<rect width="93" height="91" fill="#0a0a2a"/>
<ellipse cx="40" cy="62" rx="34" ry="26" fill="#4a2080" opacity=".45" filter="url(#bl)"/>
<ellipse cx="45" cy="55" rx="40" ry="34" fill="url(#spkP)" opacity=".7"/>
<path d="M0,62 Q15,82 45,91" stroke="#2a34c0" stroke-width="5" fill="none"/>
<rect class="ds" x="24" y="48" width="28" height="27"/>
<path class="sb" d="M80,87H88" stroke-width="1.5"/>
<text class="wt" x="4" y="18">CTRL</text>
</svg>
<svg x="128" y="852" width="92" height="91">
<rect width="92" height="91" fill="url(#pm)"/><rect width="92" height="91" fill="url(#pm2)"/>
<path class="sb" d="M64,80H89"/>
</svg>
<svg x="227" y="852" width="92" height="91">
<rect width="92" height="91" fill="#0a0a2a"/>
<ellipse cx="50" cy="42" rx="36" ry="28" fill="#4a2070" opacity=".45" filter="url(#bl)"/>
<ellipse cx="50" cy="45" rx="32" ry="26" fill="url(#spkP)" opacity=".7"/>
<ellipse cx="7" cy="50" rx="5" ry="15" fill="#30a040" filter="url(#bl2)"/>
<path d="M0,72 Q30,62 40,91" stroke="#2a34c0" stroke-width="4" fill="none"/>
<rect class="ds" x="26" y="33" width="27" height="27"/>
<text class="wt" x="4" y="18">M14NKO</text>
</svg>
<svg x="321" y="852" width="92" height="91">
<rect width="92" height="91" fill="url(#pm)"/><rect width="92" height="91" fill="url(#pm2)"/>
<rect width="92" height="91" fill="#000" opacity=".15"/>
<path class="sb" d="M64,80H89"/>
</svg>

<svg x="33" y="946" width="93" height="92">
<rect width="93" height="92" fill="#0a0a24"/>
<path d="M0,25 Q20,55 26,92 L0,92 Z" fill="#9a6030" filter="url(#bl2)"/>
<ellipse cx="50" cy="45" rx="35" ry="35" fill="url(#spkG)" opacity=".5"/>
<path d="M26,92 Q60,78 93,84" stroke="#2a34c0" stroke-width="4" fill="none"/>
<rect class="ds" x="24" y="37" width="28" height="25"/>
<path class="sb" d="M80,88H88" stroke-width="1.5"/>
</svg>
<svg x="128" y="946" width="92" height="92">
<rect width="92" height="92" fill="url(#pg)"/><rect width="92" height="92" fill="url(#pm2)"/>
<path class="sb" d="M64,79H89"/>
</svg>
<svg x="227" y="946" width="92" height="92">
<rect width="92" height="92" fill="#0a0a28"/>
<path d="M0,92 L0,68 Q18,58 30,70 L48,92 Z" fill="#6a2a80" filter="url(#bl2)"/>
<path d="M22,0 Q26,40 8,72" stroke="#2a2ab0" stroke-width="3" fill="none"/>
<ellipse cx="50" cy="40" rx="40" ry="40" fill="url(#spkP)" opacity=".35"/>
<rect class="ds" x="21" y="47" width="27" height="26"/>
</svg>
<svg x="321" y="946" width="92" height="92">
<rect width="92" height="92" fill="url(#pm)"/><rect width="92" height="92" fill="url(#darkTR)"/>
<path class="sb" d="M64,79H89"/>
</svg>

<circle cx="107" cy="1067" r="4.5" fill="#20b050"/><text x="115" y="1073" font-size="17">OTP</text>
<circle cx="189" cy="1067" r="4.5" fill="#e02030"/><text x="196" y="1073" font-size="17">TBX3</text>
<circle cx="265" cy="1067" r="4.5" fill="#1030e0"/><text x="273" y="1073" font-size="17">DAPI</text>
<text transform="translate(32,1122) rotate(-90)" text-anchor="middle" font-size="17">P0</text>
<text transform="translate(32,1217) rotate(-90)" text-anchor="middle" font-size="17">Adult</text>

<svg x="33" y="1078" width="93" height="91">
<rect width="93" height="91" fill="#0a0a28"/>
<ellipse cx="30" cy="58" rx="30" ry="28" fill="#3a5a30" opacity=".4" filter="url(#bl)"/>
<ellipse cx="30" cy="58" rx="32" ry="30" fill="url(#spkG)" opacity=".8"/>
<ellipse cx="34" cy="62" rx="30" ry="26" fill="url(#spkR)" opacity=".6"/>
<path d="M40,91 Q70,70 93,75" stroke="#2a34c0" stroke-width="4" fill="none"/>
<rect class="ds" x="10" y="48" width="26" height="27"/>
<text class="wt" x="4" y="20">CTRL</text>
</svg>
<svg x="128" y="1078" width="92" height="91">
<rect width="92" height="91" fill="url(#pg)"/><rect width="92" height="91" fill="url(#pm2)"/>
<ellipse cx="10" cy="82" rx="32" ry="26" fill="#c0e040" opacity=".55" filter="url(#bl)"/>
<path class="sb" d="M64,79H89"/>
</svg>
<svg x="227" y="1078" width="92" height="91">
<rect width="92" height="91" fill="#0a0a26"/>
<ellipse cx="60" cy="62" rx="30" ry="14" fill="#1a2090" opacity=".7" filter="url(#bl)"/>
<ellipse cx="42" cy="45" rx="34" ry="18" fill="#7a1a40" opacity=".6" filter="url(#bl)"/>
<ellipse cx="45" cy="47" rx="34" ry="20" fill="url(#spkR)"/>
<path d="M0,28 Q30,20 50,40" stroke="#2a2ab0" stroke-width="4" fill="none"/>
<rect class="ds" x="35" y="44" width="27" height="26"/>
<text class="wt" x="4" y="20">M14NKO</text>
</svg>
<svg x="321" y="1078" width="92" height="91">
<rect width="92" height="91" fill="url(#pr)"/><rect width="92" height="91" fill="url(#pm2)" opacity=".6"/>
<path d="M0,0 L40,0 Q20,20 0,40 Z" fill="#2a30c0" opacity=".8" filter="url(#bl2)"/>
<path class="sb" d="M64,79H89"/>
</svg>

<svg x="33" y="1172" width="93" height="91">
<rect width="93" height="91" fill="#0a0a24"/>
<path d="M0,40 Q15,68 20,91 L0,91 Z" fill="#a04050" filter="url(#bl2)"/>
<ellipse cx="12" cy="75" rx="12" ry="15" fill="#b0c040" filter="url(#bl2)"/>
<ellipse cx="45" cy="55" rx="30" ry="25" fill="url(#spkG)" opacity=".6"/>
<path d="M20,91 Q55,80 93,85" stroke="#2a34c0" stroke-width="3" fill="none"/>
<rect class="ds" x="22" y="40" width="28" height="26"/>
</svg>
<svg x="128" y="1172" width="92" height="91">
<rect width="92" height="91" fill="url(#pg)"/><rect width="92" height="91" fill="url(#pm2)"/>
<ellipse cx="6" cy="80" rx="24" ry="32" fill="#d0e040" opacity=".6" filter="url(#bl)"/>
<path class="sb" d="M64,78H89"/>
</svg>
<svg x="227" y="1172" width="92" height="91">
<rect width="92" height="91" fill="#0a0a28"/>
<path d="M0,91 L0,70 Q18,58 30,70 L48,91 Z" fill="#6a2a80" filter="url(#bl2)"/>
<path d="M22,0 Q26,40 8,72" stroke="#2a2ab0" stroke-width="3" fill="none"/>
<ellipse cx="50" cy="40" rx="40" ry="40" fill="url(#spkP)" opacity=".35"/>
<rect class="ds" x="26" y="44" width="27" height="27"/>
</svg>
<svg x="321" y="1172" width="92" height="91">
<rect width="92" height="91" fill="url(#pr)"/><rect width="92" height="91" fill="url(#darkTR)"/>
<path class="sb" d="M64,78H89"/>
</svg>

<!-- ================= PANEL E ================= -->
<text x="424" y="843" font-size="21" font-weight="bold">E</text>
<rect x="526.5" y="832.5" width="11" height="11" class="bw"/><text x="541" y="844" font-size="16">CTRL</text>
<rect x="526.5" y="853.5" width="11" height="11" class="bg"/><text x="541" y="865" font-size="16">M14NKO</text>
<path class="ax" d="M490,862V1032H587"/>
<path class="ax" d="M487,862H490M487,896H490M487,930H490M487,964H490M487,998H490"/>
<g font-size="17" text-anchor="end">
<text x="487" y="868">100</text><text x="487" y="902">80</text><text x="487" y="936">60</text><text x="487" y="970">40</text><text x="487" y="1004">20</text><text x="487" y="1038">0</text>
</g>
<rect x="497" y="911.3" width="13" height="120.7" class="bw"/>
<rect x="517" y="964" width="13" height="68" class="bg"/>
<rect x="550" y="990.4" width="13" height="41.6" class="bw"/>
<rect x="571" y="1021.8" width="13" height="10.2" class="bg"/>
<path class="eb" d="M503.5,903V911M500,903h7M523.5,957V964M520,957h7"/>
<circle class="oc" cx="502" cy="898" r="2.5"/><circle class="oc" cx="505" cy="906" r="2.5"/><circle class="oc" cx="502" cy="928" r="2.5"/>
<circle class="oc" cx="524" cy="952" r="2.5"/><circle class="oc" cx="522" cy="966" r="2.5"/><circle class="oc" cx="524" cy="974" r="2.5"/>
<circle class="oc" cx="553" cy="990" r="2.5"/><circle class="oc" cx="557" cy="990" r="2.5"/><circle class="oc" cx="561" cy="991" r="2.5"/>
<circle class="oc" cx="574" cy="1020" r="2.5"/><circle class="oc" cx="578" cy="1021" r="2.5"/><circle class="oc" cx="582" cy="1021" r="2.5"/>
<path class="sg" d="M502,887H521M557,977H577"/>
<text x="511" y="891" font-size="18" text-anchor="middle">**</text>
<text x="567" y="983" font-size="18" text-anchor="middle">***</text>
<text x="515" y="1053" font-size="17" text-anchor="middle">P0</text>
<text x="567" y="1053" font-size="17" text-anchor="middle">Adult</text>
<text transform="translate(458,947) rotate(-90)" text-anchor="middle" font-size="17">POMC<tspan font-size="11" dy="-6">+</tspan><tspan dy="6"> cells / section</tspan></text>

<path class="ax" d="M491,1068V1243H593"/>
<path class="ax" d="M488,1068H491M488,1111.75H491M488,1155.5H491M488,1199.25H491"/>
<g font-size="17" text-anchor="end">
<text x="488" y="1074">400</text><text x="488" y="1118">300</text><text x="488" y="1161">200</text><text x="488" y="1205">100</text><text x="488" y="1249">0</text>
</g>
<rect x="497" y="1144" width="14" height="99" class="bw"/>
<rect x="517" y="1168.6" width="14" height="74.4" class="bg"/>
<rect x="551" y="1188.3" width="13" height="54.7" class="bw"/>
<rect x="572" y="1216.8" width="13" height="26.2" class="bg"/>
<path class="eb" d="M504,1136V1144M500.5,1136h7"/>
<circle class="oc" cx="501" cy="1136" r="2.5"/><circle class="oc" cx="507" cy="1138" r="2.5"/><circle class="oc" cx="504" cy="1155" r="2.5"/>
<circle class="oc" cx="522" cy="1165" r="2.5"/><circle class="oc" cx="526" cy="1169" r="2.5"/><circle class="oc" cx="529" cy="1170" r="2.5"/>
<circle class="oc" cx="554" cy="1187" r="2.5"/><circle class="oc" cx="558" cy="1188" r="2.5"/><circle class="oc" cx="562" cy="1189" r="2.5"/>
<circle class="oc" cx="575" cy="1219" r="2.5"/><circle class="oc" cx="579" cy="1214" r="2.5"/><circle class="oc" cx="583" cy="1219" r="2.5"/>
<path class="sg" d="M506,1123H525M560,1174H582"/>
<text x="515" y="1125" font-size="18" text-anchor="middle">*</text>
<text x="571" y="1180" font-size="18" text-anchor="middle">***</text>
<text x="517" y="1261" font-size="17" text-anchor="middle">P0</text>
<text x="569" y="1261" font-size="17" text-anchor="middle">Adult</text>
<text transform="translate(438,1148) rotate(-90)" text-anchor="middle" font-size="17">OTP<tspan font-size="11" dy="-6">+</tspan><tspan dy="6"> cells in the</tspan></text>
<text transform="translate(458,1148) rotate(-90)" text-anchor="middle" font-size="17">ARC area / section</text>

<!-- ================= PANEL F ================= -->
<text x="650" y="843" font-size="21" font-weight="bold">F</text>
<circle cx="775" cy="840" r="4.5" fill="#20b050"/><text x="784" y="846" font-size="17">NeuN</text>
<circle cx="843" cy="840" r="4.5" fill="#e02030"/><text x="851" y="846" font-size="17">TBX3</text>
<circle cx="904" cy="840" r="4.5" fill="#1030e0"/><text x="916" y="846" font-size="17">DAPI</text>
<text transform="translate(663,900) rotate(-90)" text-anchor="middle" font-size="17">P0</text>
<text transform="translate(663,990) rotate(-90)" text-anchor="middle" font-size="17">Adult</text>

<svg x="668" y="853" width="91" height="90">
<rect width="91" height="90" fill="#050a06"/>
<ellipse cx="62" cy="40" rx="40" ry="45" fill="#164018" filter="url(#bl)"/>
<rect x="25" y="0" width="66" height="90" fill="url(#spkG)" opacity=".6"/>
<path d="M22,74 Q50,82 80,70 L80,86 L22,88 Z" fill="#40b040" filter="url(#bl2)"/>
<path d="M0,50 Q18,70 24,90" stroke="#2040b0" stroke-width="5" fill="none"/>
<ellipse cx="22" cy="50" rx="14" ry="11" fill="#806060" opacity=".5" filter="url(#bl2)"/>
<rect class="ds" x="11" y="40" width="20" height="20"/>
<text class="wt" x="4" y="18">CTRL</text>
</svg>
<svg x="763" y="853" width="91" height="90">
<rect width="91" height="90" fill="url(#pf)"/><rect width="91" height="90" fill="url(#pm2)" opacity=".5"/>
<path class="sb" d="M44,75H89"/>
</svg>
<svg x="863" y="853" width="91" height="90">
<rect width="91" height="90" fill="#050a06"/>
<ellipse cx="50" cy="28" rx="48" ry="30" fill="#1e5a1e" opacity=".8" filter="url(#bl)"/>
<rect width="91" height="60" fill="url(#spkG)" opacity=".6"/>
<ellipse cx="45" cy="74" rx="44" ry="11" fill="#50c040" filter="url(#bl2)"/>
<ellipse cx="40" cy="60" rx="26" ry="10" fill="#306080" filter="url(#bl2)"/>
<rect class="ds" x="19" y="56" width="21" height="20"/>
<text class="wt" x="4" y="18">M14NKO</text>
</svg>
<svg x="958" y="853" width="92" height="90">
<rect width="92" height="90" fill="url(#pf)"/><rect width="92" height="90" fill="url(#pm2)" opacity=".5"/>
<path class="sb" d="M44,75H89"/>
</svg>

<svg x="668" y="946" width="91" height="91">
<rect width="91" height="91" fill="#060c06"/>
<ellipse cx="48" cy="45" rx="46" ry="46" fill="#164018" filter="url(#bl)"/>
<rect width="91" height="91" fill="url(#spkG)" opacity=".6"/>
<path d="M0,0 L18,0 L18,91 L0,91 Z" fill="#040404" opacity=".7"/>
<path d="M45,91 L91,72 L91,91 Z" fill="#050505"/>
<ellipse cx="28" cy="55" rx="18" ry="15" fill="#a0c040" opacity=".5" filter="url(#bl2)"/>
<path d="M0,82 Q20,72 30,91" stroke="#3040a0" stroke-width="4" fill="none"/>
<rect class="ds" x="19" y="47" width="20" height="19"/>
</svg>
<svg x="763" y="946" width="91" height="91">
<rect width="91" height="91" fill="url(#py)"/>
<path class="sb" d="M44,76H89"/>
</svg>
<svg x="863" y="946" width="91" height="91">
<rect width="91" height="91" fill="#040604"/>
<ellipse cx="62" cy="45" rx="36" ry="48" fill="#164018" filter="url(#bl)"/>
<rect x="20" width="71" height="91" fill="url(#spkG)" opacity=".6"/>
<ellipse cx="31" cy="50" rx="12" ry="15" fill="#b0c040" opacity=".7" filter="url(#bl2)"/>
<path d="M10,91 Q15,70 25,60" stroke="#3040a0" stroke-width="3" fill="none"/>
<rect class="ds" x="22" y="41" width="18" height="18"/>
</svg>
<svg x="958" y="946" width="92" height="91">
<rect width="92" height="91" fill="url(#py)"/>
<path class="sb" d="M44,76H89"/>
</svg>

<!-- ================= PANEL G ================= -->
<text x="681" y="1068" font-size="21" font-weight="bold">G</text>
<rect x="875.5" y="1067.5" width="12" height="12" class="bw"/><text x="892" y="1079" font-size="16">CTRL</text>
<rect x="875.5" y="1087.5" width="12" height="12" class="bg"/><text x="892" y="1099" font-size="16">M14NKO</text>
<path class="ax" d="M766,1070V1243H867"/>
<path class="ax" d="M762,1070H766M762,1113.25H766M762,1156.5H766M762,1199.75H766"/>
<g font-size="17" text-anchor="end">
<text x="762" y="1076">800</text><text x="762" y="1119">600</text><text x="762" y="1163">400</text><text x="762" y="1206">200</text><text x="762" y="1249">0</text>
</g>
<rect x="773" y="1128.4" width="14" height="114.6" class="bw"/>
<rect x="793" y="1093.9" width="14" height="149.1" class="bg"/>
<rect x="827" y="1176" width="13" height="67" class="bw"/>
<rect x="847" y="1165.2" width="13" height="77.8" class="bg"/>
<path class="eb" d="M780,1120V1128M776.5,1120h7M800,1087V1094M796.5,1087h7"/>
<circle class="oc" cx="780" cy="1119" r="2.5"/><circle class="oc" cx="776" cy="1135" r="2.5"/><circle class="oc" cx="784" cy="1135" r="2.5"/>
<circle class="oc" cx="800" cy="1086" r="2.5"/><circle class="oc" cx="802" cy="1094" r="2.5"/><circle class="oc" cx="800" cy="1102" r="2.5"/>
<circle class="oc" cx="829" cy="1176" r="2.5"/><circle class="oc" cx="833" cy="1176" r="2.5"/><circle class="oc" cx="837" cy="1176" r="2.5"/>
<circle class="oc" cx="850" cy="1163" r="2.5"/><circle class="oc" cx="854" cy="1164" r="2.5"/><circle class="oc" cx="857" cy="1167" r="2.5"/>
<path class="sg" d="M780,1076H799M835,1150H853"/>
<text x="789" y="1078" font-size="18" text-anchor="middle">*</text>
<text x="844" y="1152" font-size="18" text-anchor="middle">*</text>
<text x="788" y="1266" font-size="17" text-anchor="middle">P0</text>
<text x="843" y="1266" font-size="17" text-anchor="middle">Adult</text>
<text transform="translate(704,1157) rotate(-90)" text-anchor="middle" font-size="17">NeuN<tspan font-size="11" dy="-6">+</tspan><tspan dy="6"> cells in the</tspan></text>
<text transform="translate(726,1157) rotate(-90)" text-anchor="middle" font-size="17">ARC area / section</text>
</svg>
</body></html>
